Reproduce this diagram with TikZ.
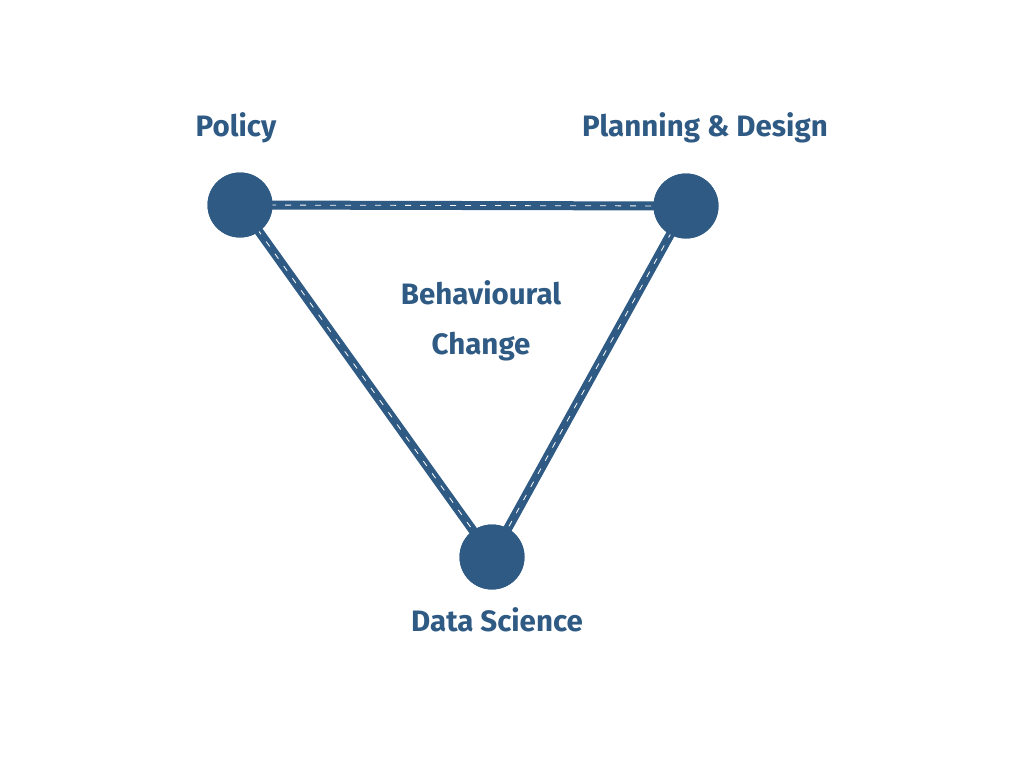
\documentclass[tikz,border=0pt]{standalone}
\usepackage{fontspec}
\setmainfont{Fira Sans}
\definecolor{chalkblue}{HTML}{2E5A84}
\begin{document}
\begin{tikzpicture}[x=1pt,y=-1pt,
  hub/.style={circle,fill=chalkblue,minimum size=65pt,inner sep=0pt},
  lbl/.style={text=chalkblue,font=\fontsize{29.5}{35}\selectfont\bfseries,inner sep=0pt,anchor=center},
  link/.style={draw=chalkblue,line width=9pt},
  scratch/.style={draw=white,line width=0.8pt,dash pattern=on 6pt off 9pt}]
\useasboundingbox (0,0) rectangle (1024,768);
\node[hub] (pol) at (240,205) {};
\node[hub] (pd) at (686,206) {};
\node[hub] (ds) at (492,557) {};
\draw[link] (pol.center) -- (pd.center);
\draw[link] (pol.center) -- (ds.center);
\draw[link] (pd.center) -- (ds.center);
\draw[scratch] (pol.center) -- (pd.center);
\draw[scratch] (pol.center) -- (ds.center);
\draw[scratch] (pd.center) -- (ds.center);
\node[hub] at (pol) {};
\node[hub] at (pd) {};
\node[hub] at (ds) {};
\node[lbl] (lpol) at (236,128) {Policy};
\node[lbl] (lpd) at (705,128) {Planning \& Design};
\node[lbl] (lbc1) at (481,293) {Behavioural};
\node[lbl] (lbc2) at (481,347) {Change};
\node[lbl] (lds) at (497,620) {Data Science};
\end{tikzpicture}
\end{document}
